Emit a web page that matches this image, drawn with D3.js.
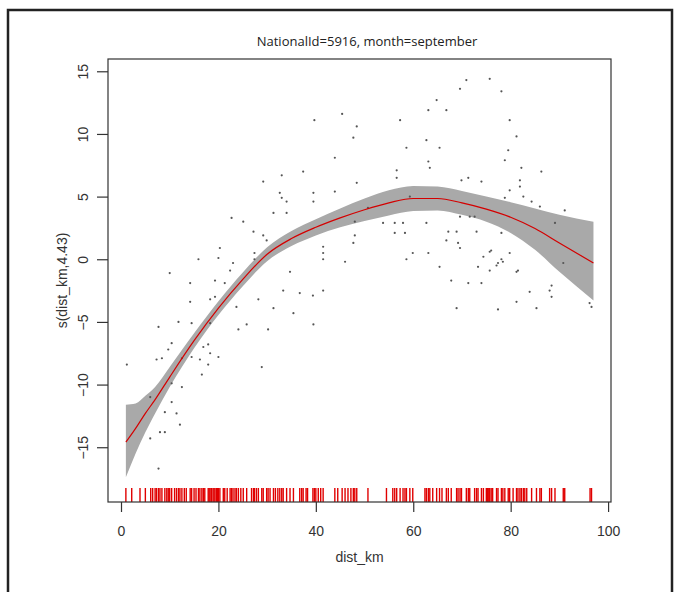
<!DOCTYPE html>
<html>
<head>
<meta charset="utf-8">
<script src="https://cdn.jsdelivr.net/npm/d3@7"></script>
<style>
  body { margin: 0; background: #fff; }
  svg { display: block; }
</style>
</head>
<body>
<svg id="chart" width="682" height="592"></svg>
<script>

//smooth term s(dist_km) estimate and its confidence band
const fitDist  = [1, 3, 5, 7, 10, 15, 20, 25, 30, 35, 40, 45, 50, 55, 60, 65, 70, 75, 80, 85, 90, 97];
const fitValue = [-14.6, -13.5, -12.3, -11.2, -9.4, -6.5, -3.9, -1.6, 0.4, 1.65, 2.55, 3.3, 3.95, 4.5, 4.85, 4.85, 4.5, 4.0, 3.35, 2.45, 1.3, -0.3];
const fitUpper = [-11.6, -11.5, -10.9, -10.2, -8.6, -5.9, -3.35, -1.05, 0.95, 2.25, 3.2, 4.05, 4.85, 5.5, 5.85, 5.8, 5.45, 5.0, 4.55, 4.05, 3.55, 3.0];
const fitLower = [-17.4, -15.5, -13.8, -12.3, -10.2, -7.1, -4.45, -2.15, -0.15, 1.05, 1.9, 2.55, 3.05, 3.5, 3.85, 3.9, 3.55, 3.0, 2.1, 0.75, -1.0, -3.3];

//partial residuals
const residX = [39.7, 45.4, 43.9, 33, 37.4, 29.2, 32.6, 33, 34, 39.5, 39.5, 43.9, 31.3, 34, 22.7, 25.1, 27.2, 29.2, 29.9, 41.5,
  41.5, 20.3, 20, 15.9, 23, 27.4, 27.4, 34.7, 41.5, 46, 10, 19.3, 14.2, 22.4, 33.3, 36.7, 39.4, 41.5,
  21.3, 14.2, 18.3, 19.3, 23.7, 28.2, 31.3, 35.4, 39.5, 7.7, 11.8, 14.5, 18.3, 24.1, 25.8, 30.2, 10.4, 9.7,
  8.4, 7.3, 12.5, 14.5, 16.2, 16.9, 17.9, 18.3, 20, 17.9, 28.9, 1.2, 16.6, 12.5, 10.4, 6, 9, 10.4, 11.4, 12.1,
  8, 9, 6, 7.7,
  70.9, 75.7, 78.1, 69.6, 64.8, 63.1, 66.8, 57.3, 79.8, 48.4, 81.2, 62.7, 47.7, 58.6, 65.4, 79.5, 78.8, 63.1,
  63.4, 56.6, 82.2, 86.3, 48.4, 56.6, 69.9, 71.3, 74, 81.9, 81.9, 79.8, 82.6, 84.3, 78.8, 86, 91.1, 89.1, 48,
  48, 50.7, 59.3, 62.7, 53.8, 56.2, 57.9, 56.2, 58.3, 69.6, 71.6, 72.6, 67.2, 68.9, 66.8, 69.2, 69.6, 47.7,
  58.6, 63.1, 59.9, 75.7, 74.4, 78.1, 77.1, 75.7, 73.3, 79.8, 81.5, 90.8, 67.8, 71.3, 74, 83.9, 88, 88.4,
  65.4, 68.9, 77.4, 81.2, 85.3, 88.4, 96.6, 96.2, 76, 77.4, 78.4, 73, 78.1, 81.2];
const residY = [11.1, 11.6, 8.1, 6.7, 7.0, 6.2, 5.3, 4.9, 4.6, 5.3, 4.6, 5.4, 3.7, 3.7, 3.3, 3.0, 2.2, 1.9, 1.5, 1.0,
  0.5, 0.9, 0.1, 0.0, -0.3, 0.5, 0.0, -1.0, 0.0, -0.2, -1.1, -1.7, -1.9, -0.9, -2.5, -2.7, -2.9, -2.5,
  -1.9, -3.4, -3.2, -3.0, -3.8, -3.2, -3.9, -4.3, -5.2, -5.4, -5.0, -5.1, -5.1, -5.6, -5.2, -5.6, -6.7, -7.2,
  -7.9, -8.0, -7.9, -7.8, -8.0, -7.0, -6.8, -7.5, -7.8, -8.4, -8.6, -8.4, -9.2, -10.2, -9.9, -11.0, -12.2, -11.4, -12.3, -13.2,
  -13.8, -13.8, -14.3, -16.7,
  14.3, 14.4, 13.4, 13.6, 12.7, 11.9, 11.9, 11.1, 11.1, 10.6, 9.8, 9.5, 9.7, 8.9, 8.9, 8.7, 7.9, 7.8,
  7.3, 7.1, 7.3, 7.0, 6.1, 6.5, 6.3, 6.5, 6.2, 6.3, 5.8, 5.5, 5.0, 4.6, 4.9, 4.2, 3.9, 2.9, 3.0,
  1.9, 4.1, 5.0, 2.9, 2.9, 2.9, 2.9, 2.1, 2.1, 3.4, 3.4, 3.4, 2.2, 2.2, 1.5, 1.3, 0.9, 1.3,
  0.0, 0.5, 0.5, 0.6, 0.2, 0.0, -0.5, -0.9, -0.6, 0.5, -0.9, -0.3, -1.7, -1.9, -1.9, -2.6, -2.5, -3.0,
  -0.6, -3.9, -4.0, -3.4, -3.9, -2.1, -3.8, -3.5, 0.7, -0.3, -0.2, 2.2, 2.1, -1.0];

//observed dist_km values shown as the rug
const rugDist = [1.0, 2.2, 3.9, 5.0, 6.1, 6.5, 7.0, 7.3, 7.7, 8.0, 8.4, 9.0, 9.4, 9.7, 10.0, 10.4, 11.0, 11.4, 11.8,
  12.1, 12.5, 13.0, 13.4, 14.2, 14.5, 15.0, 15.4, 15.9, 16.2, 16.6, 16.9, 17.2, 17.9, 18.1, 18.3, 18.6, 18.9,
  19.1, 19.3, 19.6, 19.8, 20.0, 20.3, 21.0, 21.3, 21.8, 22.4, 22.7, 23.0, 23.4, 23.7, 24.1, 24.6, 25.1, 25.8,
  26.8, 27.2, 27.4, 27.8, 28.2, 28.9, 29.2, 29.9, 30.2, 30.6, 31.3, 31.7, 32.2, 32.6, 33.0, 33.3, 34.0, 34.7,
  35.4, 36.7, 37.1, 37.4, 38.0, 38.3, 39.4, 39.7, 40.0, 40.5, 41.0, 41.5, 43.9, 44.5, 45.4, 46.0, 46.6, 47.2,
  47.7, 48.0, 48.4, 50.7, 54.5, 55.8, 56.2, 56.6, 57.3, 57.9, 58.3, 58.6, 59.3, 59.9, 62.4, 62.7, 63.1, 63.4,
  64.0, 64.8, 65.4, 65.9, 66.8, 67.2, 67.8, 68.9, 69.2, 69.6, 69.9, 70.9, 71.3, 71.6, 72.6, 73.0, 73.3, 74.0,
  74.4, 75.0, 75.2, 75.4, 75.7, 76.0, 76.3, 77.1, 77.4, 78.1, 78.4, 78.8, 79.5, 79.8, 80.5, 81.2, 81.5, 81.9,
  82.2, 82.6, 82.9, 83.3, 84.3, 85.3, 86.0, 86.3, 88.0, 88.4, 89.1, 90.8, 91.1, 96.3, 96.6];

const xTicks = [0, 20, 40, 60, 80, 100];
const yTicks = [-15, -10, -5, 0, 5, 10, 15];

const chartTitle = "NationalId=5916, month=september";
const xLabel = "dist_km";
const yLabel = "s(dist_km,4.43)";

const svg = d3.select("#chart");

const plotLeft = 108, plotRight = 611, plotTop = 59, plotBottom = 502;

const x = d3.scaleLinear()
  .domain([-2.67, 100.6])
  .range([plotLeft, plotRight]);

const y = d3.scaleLinear()
  .domain([-19.37, 15.98])
  .range([plotBottom, plotTop]);

//outer frame around the picture
svg.append("rect")
  .attr("x", 8)
  .attr("y", 10)
  .attr("width", 664)
  .attr("height", 600)
  .attr("fill", "none")
  .attr("stroke", "#222")
  .attr("stroke-width", 2.5);

//confidence band
const fit = fitDist.map((d, i) => ({ dist: d, value: fitValue[i], upper: fitUpper[i], lower: fitLower[i] }));

const band = d3.area()
  .x(d => x(d.dist))
  .y0(d => y(d.lower))
  .y1(d => y(d.upper))
  .curve(d3.curveMonotoneX);

svg.append("path")
  .datum(fit)
  .attr("d", band)
  .attr("fill", "#a9a9a9");

//residual points
const resid = residX.map((d, i) => ({ dist: d, value: residY[i] }));

svg.append("g")
  .selectAll("circle")
  .data(resid)
  .join("circle")
  .attr("cx", d => x(d.dist))
  .attr("cy", d => y(d.value))
  .attr("r", 1.1)
  .attr("fill", "#555");

//fitted line
const line = d3.line()
  .x(d => x(d.dist))
  .y(d => y(d.value))
  .curve(d3.curveMonotoneX);

svg.append("path")
  .datum(fit)
  .attr("d", line)
  .attr("fill", "none")
  .attr("stroke", "#d40000")
  .attr("stroke-width", 1.2);

//rug
svg.append("g")
  .selectAll("line")
  .data(rugDist)
  .join("line")
  .attr("x1", d => x(d))
  .attr("x2", d => x(d))
  .attr("y1", plotBottom)
  .attr("y2", plotBottom - 14)
  .attr("stroke", "#e00000")
  .attr("stroke-width", 1.4);

//plot box
svg.append("rect")
  .attr("x", plotLeft)
  .attr("y", plotTop)
  .attr("width", plotRight - plotLeft)
  .attr("height", plotBottom - plotTop)
  .attr("fill", "none")
  .attr("stroke", "#333")
  .attr("stroke-width", 1.2);

//axes
const xAxis = svg.append("g")
  .attr("transform", `translate(0,${plotBottom})`)
  .call(d3.axisBottom(x).tickValues(xTicks).tickSize(10).tickPadding(14));

xAxis.select(".domain").remove();
xAxis.selectAll("line").attr("stroke", "#333").attr("stroke-width", 1.2);
xAxis.selectAll("text")
  .attr("font-family", "Liberation Sans, Arial, sans-serif")
  .attr("font-size", "14px")
  .attr("fill", "#333");

const yAxis = svg.append("g")
  .attr("transform", `translate(${plotLeft},0)`)
  .call(d3.axisLeft(y).tickValues(yTicks).tickSize(11));

yAxis.select(".domain").remove();
yAxis.selectAll("line").attr("stroke", "#333").attr("stroke-width", 1.2);
yAxis.selectAll("text")
  .attr("x", null)
  .attr("dy", null)
  .attr("transform", "translate(-20,0) rotate(-90)")
  .attr("text-anchor", "middle")
  .attr("font-family", "Liberation Sans, Arial, sans-serif")
  .attr("font-size", "14px")
  .attr("fill", "#333");

//labels
svg.append("text")
  .attr("x", 367)
  .attr("y", 46)
  .attr("text-anchor", "middle")
  .attr("font-family", "Open Sans, sans-serif")
  .attr("font-size", "13px")
  .attr("fill", "#222")
  .text(chartTitle);

svg.append("text")
  .attr("x", (plotLeft + plotRight) / 2)
  .attr("y", 562)
  .attr("text-anchor", "middle")
  .attr("font-family", "Liberation Sans, Arial, sans-serif")
  .attr("font-size", "14px")
  .attr("fill", "#333")
  .text(xLabel);

svg.append("text")
  .attr("transform", `translate(67,${(plotTop + plotBottom) / 2}) rotate(-90)`)
  .attr("text-anchor", "middle")
  .attr("font-family", "Liberation Sans, Arial, sans-serif")
  .attr("font-size", "14px")
  .attr("fill", "#333")
  .text(yLabel);

</script>
</body>
</html>
